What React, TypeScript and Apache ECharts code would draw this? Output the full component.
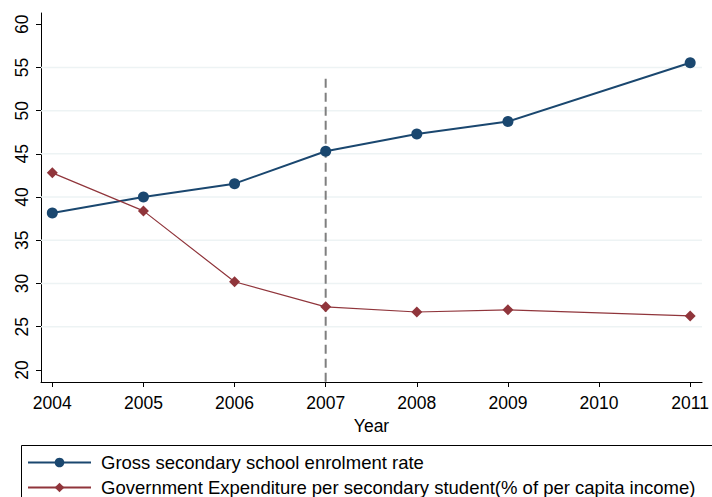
import React, { useEffect, useRef } from "react";
import * as echarts from "echarts";

const years = [2004, 2005, 2006, 2007, 2008, 2009, 2011];
const enrolment = [38.15, 40.0, 41.55, 45.3, 47.3, 48.75, 55.55];
const expenditure = [42.8, 38.4, 30.2, 27.3, 26.7, 26.95, 26.25];
const xTicks = [2004, 2005, 2006, 2007, 2008, 2009, 2010, 2011];
const yTicks = [20, 25, 30, 35, 40, 45, 50, 55, 60];
const gridValues = [25, 30, 35, 40, 45, 50, 55];
const policyYear = 2007;
const policyTop = 53.7;
const seriesNames = [
  "Gross secondary school enrolment rate",
  "Government Expenditure per secondary student(% of per capita income)",
];

const FONT = "'Liberation Sans', Arial, sans-serif";

export default function App() {
  const ref = useRef<HTMLDivElement>(null);
  useEffect(() => {
    if (!ref.current) return;
    const chart = echarts.init(ref.current, null, { renderer: "svg" });
    const xMin = 2003.876;
    const xMax = 2011.13;
    const yMin = 18.6;
    const yMax = 61.3;
    const legendBase = {
      orient: "vertical",
      left: 22,
      itemWidth: 63,
      itemHeight: 12,
      textStyle: { fontSize: 18.5, color: "#000", fontFamily: FONT, padding: [0, 0, 0, 5] },
    };
    chart.setOption({
      animation: false,
      textStyle: { fontFamily: FONT },
      grid: { left: 41, right: 7, top: 13, bottom: 115, containLabel: false },
      xAxis: {
        type: "value",
        min: xMin,
        max: xMax,
        name: "Year",
        nameLocation: "middle",
        nameGap: 35,
        nameTextStyle: { fontSize: 17.5, color: "#000", fontFamily: FONT },
        axisLine: { show: true, lineStyle: { color: "#000", width: 1 } },
        axisTick: { show: true, customValues: xTicks, length: 5, lineStyle: { color: "#000" } },
        axisLabel: {
          customValues: xTicks,
          formatter: (v: number) => String(v),
          fontSize: 17.5,
          color: "#000",
          margin: 12,
          fontFamily: FONT,
        },
        splitLine: { show: false },
      },
      yAxis: {
        type: "value",
        min: yMin,
        max: yMax,
        axisLine: { show: true, lineStyle: { color: "#000", width: 1 } },
        axisTick: { show: true, customValues: yTicks, length: 5, lineStyle: { color: "#000" } },
        axisLabel: {
          customValues: yTicks,
          rotate: 90,
          fontSize: 17.5,
          color: "#000",
          margin: 10,
          fontFamily: FONT,
        },
        splitLine: { show: false },
      },
      legend: [
        { ...legendBase, top: 448, data: [seriesNames[0]] },
        { ...legendBase, top: 473, data: [seriesNames[1]] },
      ],
      graphic: [
        {
          type: "rect",
          left: 19,
          top: 443,
          shape: { x: 0, y: 0, width: 720, height: 80 },
          style: { fill: "none", stroke: "#000", lineWidth: 1 },
          silent: true,
        },
      ],
      series: [
        ...gridValues.map((v) => ({
          name: "grid" + v,
          type: "line",
          data: [
            [xMin, v],
            [xMax, v],
          ],
          symbol: "none",
          silent: true,
          z: 1,
          lineStyle: { color: "#edf3f4", width: 1.5 },
        })),
        {
          name: "policy",
          type: "line",
          data: [
            [policyYear, policyTop],
            [policyYear, yMin],
          ],
          symbol: "none",
          silent: true,
          z: 2,
          lineStyle: { color: "#7f7f7f", width: 2, type: [9, 5] },
        },
        {
          name: seriesNames[0],
          type: "line",
          data: years.map((y, i) => [y, enrolment[i]]),
          symbol: "circle",
          symbolSize: 11,
          itemStyle: { color: "#1a476f" },
          lineStyle: { color: "#1a476f", width: 2 },
          z: 3,
        },
        {
          name: seriesNames[1],
          type: "line",
          data: years.map((y, i) => [y, expenditure[i]]),
          symbol: "diamond",
          symbolSize: 11,
          itemStyle: { color: "#90353b" },
          lineStyle: { color: "#90353b", width: 1.2 },
          z: 4,
        },
      ],
    });
    return () => chart.dispose();
  }, []);
  return <div ref={ref} style={{ width: 712, height: 497, position: "absolute", left: 0, top: 0 }} />;
}
